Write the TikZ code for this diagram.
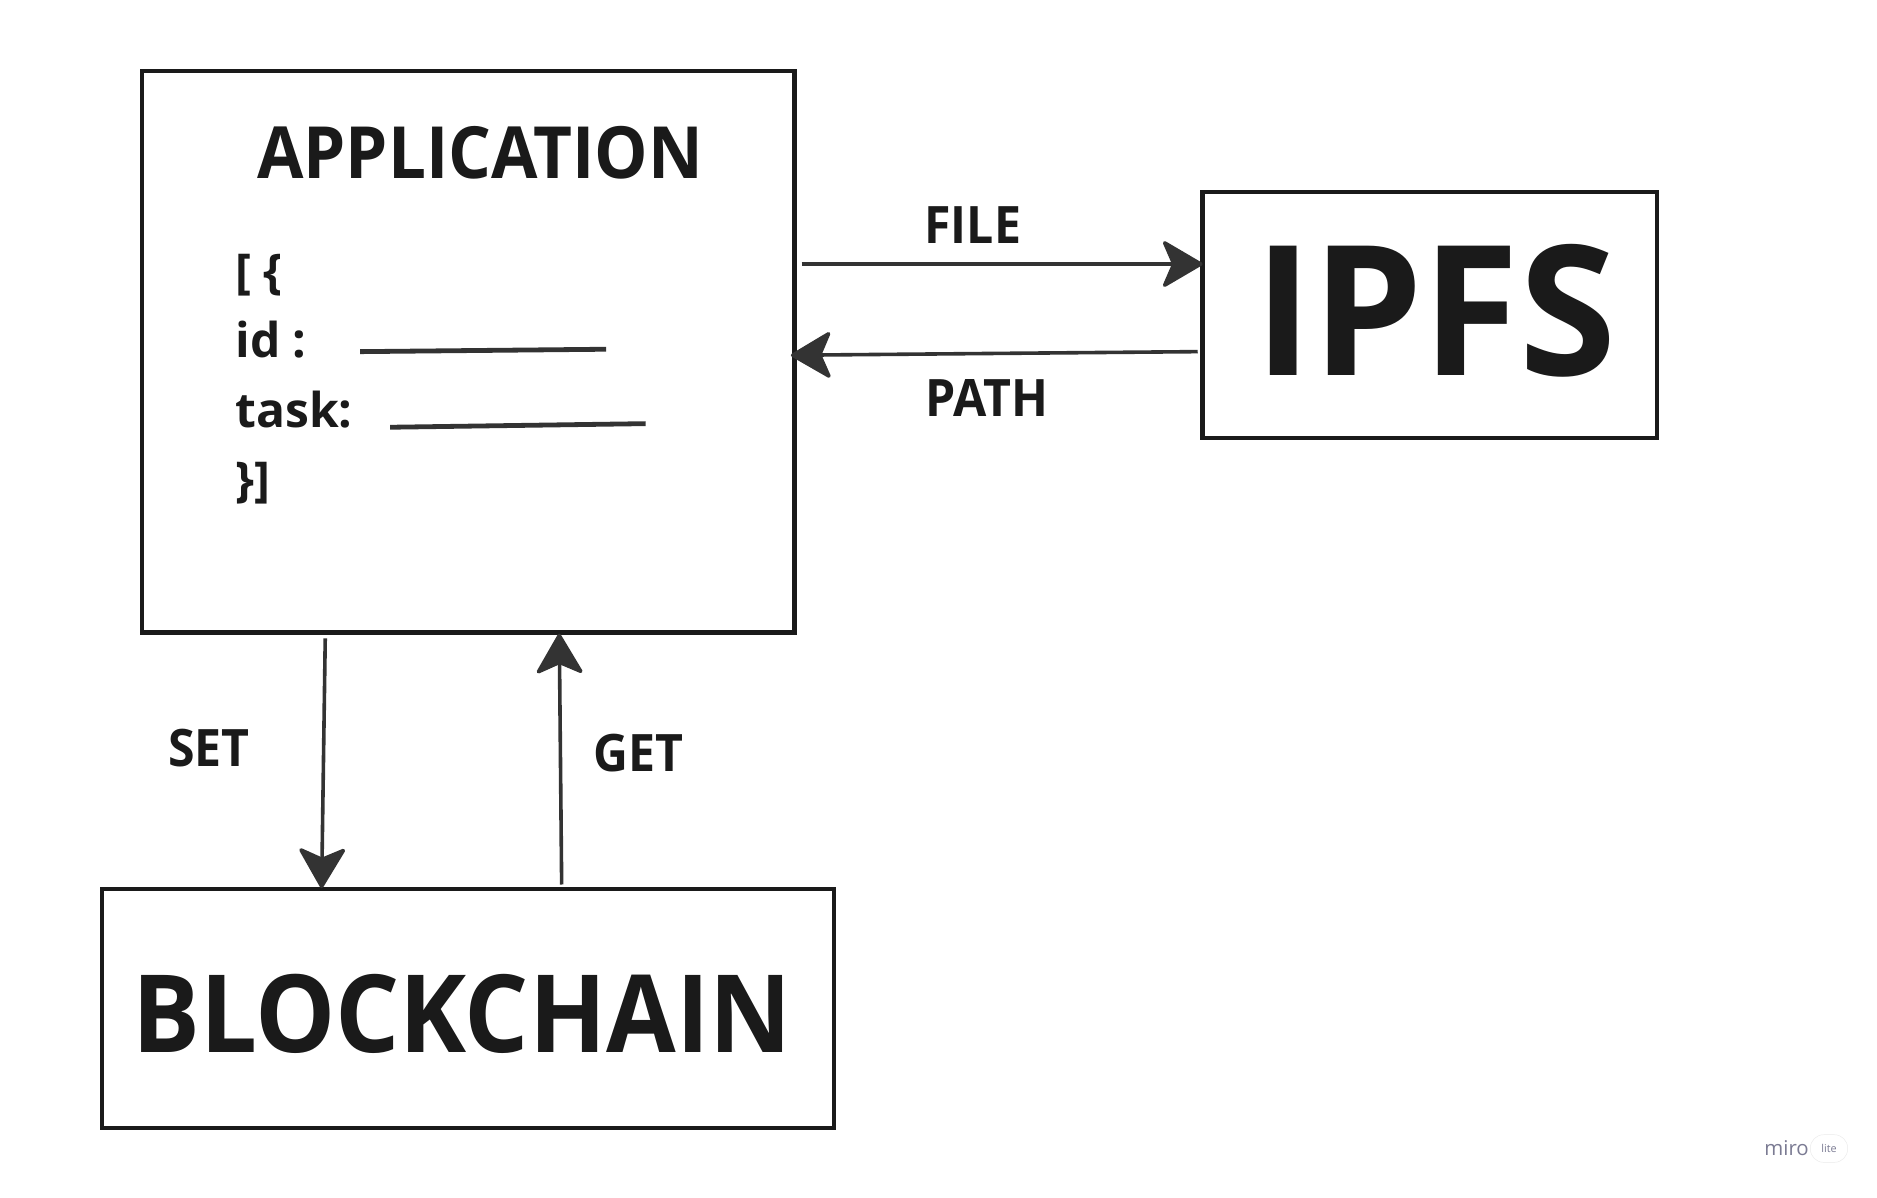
\documentclass[tikz,border=0pt]{standalone}
\usepackage{fontspec}
\setmainfont{Open Sans}[FakeStretch=0.935]
\newfontfamily\codefont{Open Sans}
\newfontfamily\ipfsfont{Open Sans}[FakeStretch=0.972]
\usetikzlibrary{arrows.meta}
\definecolor{boxc}{HTML}{1A1A1A}
\definecolor{arrc}{HTML}{333333}
\definecolor{txtc}{HTML}{1A1A1A}
\definecolor{miroc}{HTML}{7B7B93}
\begin{document}
\begin{tikzpicture}[x=1pt,y=-1pt,
  box/.style={draw=boxc, line width=3.5pt, inner sep=0pt, outer sep=0pt, anchor=north west},
  conn/.style={draw=arrc, line width=3pt, -{Stealth[length=36pt,width=42pt,inset=9pt,round]}},
  fieldline/.style={draw=arrc, line width=4pt},
  lbl/.style={font=\bfseries\fontsize{43}{50}\selectfont, text=txtc, inner sep=0pt, anchor=base west},
  code/.style={font=\codefont\bfseries\fontsize{40}{46}\selectfont, text=txtc, inner sep=0pt, anchor=base west},
  big/.style={font=\bfseries, text=txtc, inner sep=0pt, anchor=base}]
\useasboundingbox (0,0) rectangle (1564,998);
\fill[white] (0,0) rectangle (1564,998);
% boxes
\node[box, minimum width=544pt, minimum height=468pt] (app) at (118,59) {};
\node[box, minimum width=379pt, minimum height=205pt] (ipfs) at (1002,160) {};
\node[box, minimum width=610pt, minimum height=199pt] (bc) at (85,741) {};
% titles
\node[big, font=\bfseries\fontsize{60}{70}\selectfont] (apptitle) at (400,149) {APPLICATION};
\node[big, font=\ipfsfont\bfseries\fontsize{151}{160}\selectfont] (ipfstitle) at (1196,313) {IPFS};
\node[big, font=\bfseries\fontsize{90}{100}\selectfont] (bctitle) at (385,877) {BLOCKCHAIN};
% code lines
\node[code] (c1) at (196,240) {[ \{};
\node[code] (c2) at (196,298) {id :};
\node[code] (c3) at (196,356) {task:};
\node[code] (c4) at (196,414) {\}]};
\coordinate (l1a) at (300,293); \coordinate (l1b) at (505,291);
\coordinate (l2a) at (325,356); \coordinate (l2b) at (538,353);
\draw[fieldline] (l1a) -- (l1b);
\draw[fieldline] (l2a) -- (l2b);
% connectors
\coordinate (fs) at (668,220);
\coordinate (ps) at (998,293);
\coordinate (pe) at (659,296);
\coordinate (ss) at (271,532);
\coordinate (se) at (268,740);
\coordinate (gs) at (468,737);
\coordinate (ge) at (466,528);
\draw[conn] (fs) -- (ipfs.west |- fs);
\draw[conn] (ps) -- (pe);
\draw[conn] (ss) -- (se);
\draw[conn] (gs) -- (ge);
% labels
\node[lbl] (file) at (770,203) {FILE};
\node[lbl] (path) at (771,347) {PATH};
\node[lbl] (set) at (140,639) {SET};
\node[lbl] (get) at (494,643) {GET};
% watermark
\node[font=\codefont\fontsize{17}{18}\selectfont, text=miroc, inner sep=0pt, anchor=base west] (miro) at (1470,963) {miro};
\node[draw=black!8, fill=white, rounded corners=11pt, minimum width=31pt, minimum height=23pt, inner sep=0pt] (lite) at (1524,957) {};
\node[font=\codefont\fontsize{9}{10}\selectfont, text=miroc, inner sep=0pt] (litetxt) at (lite.center) {lite};
\end{tikzpicture}
\end{document}
